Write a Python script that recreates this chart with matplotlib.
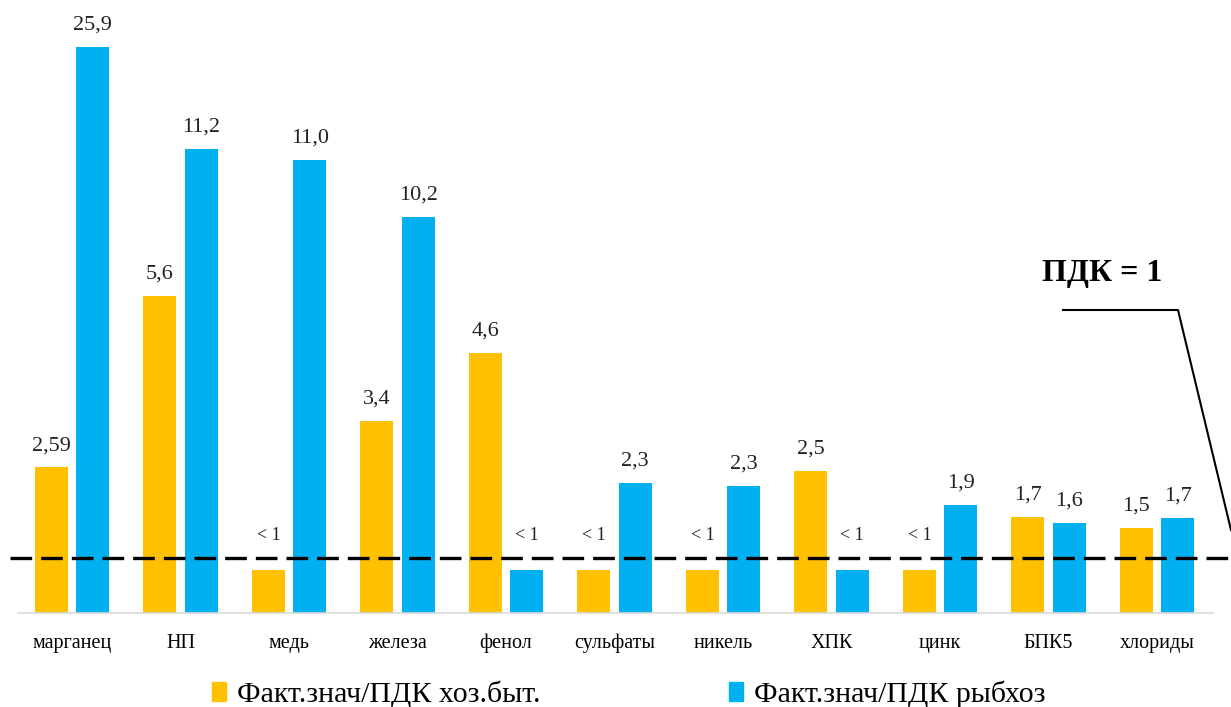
import matplotlib.pyplot as plt
import numpy as np
from matplotlib.patches import Patch

plt.rcParams['font.family'] = ['Liberation Serif', 'DejaVu Serif']

categories = ['марганец', 'НП', 'медь', 'железа', 'фенол', 'сульфаты',
              'никель', 'ХПК', 'цинк', 'БПК5', 'хлориды']
# bar heights as drawn in the picture
hoz_heights = [2.59, 5.64, 0.77, 3.42, 4.63, 0.77, 0.77, 2.53, 0.77, 1.71, 1.51]
ryb_heights = [10.07, 8.25, 8.06, 7.05, 0.77, 2.31, 2.26, 0.77, 1.93, 1.61, 1.69]
# labels printed over the bars
hoz_labels = ['2,59', '5,6', '< 1', '3,4', '4,6', '< 1', '< 1', '2,5', '< 1', '1,7', '1,5']
ryb_labels = ['25,9', '11,2', '11,0', '10,2', '< 1', '2,3', '2,3', '< 1', '1,9', '1,6', '1,7']
series_names = ['Факт.знач/ПДК хоз.быт.', 'Факт.знач/ПДК рыбхоз']

c_hoz = '#FFC000'
c_ryb = '#00B0F0'

fig = plt.figure(figsize=(12.31, 7.07), dpi=100)
ax = fig.add_axes([0, 94 / 707, 1, 613 / 707])

x = np.arange(len(categories))
w = 0.305
off = 0.19
ax.bar(x - off, hoz_heights, w, color=c_hoz)
ax.bar(x + off, ryb_heights, w, color=c_ryb)

ax.set_xlim(-72 / 108.5, (1231 - 72) / 108.5)
ax.set_ylim(0, 613 / 56.2)

for xs, hs, labs in [(x - off, hoz_heights, hoz_labels), (x + off, ryb_heights, ryb_labels)]:
    for xi, h, lab in zip(xs, hs, labs):
        if lab.startswith('<'):
            ax.text(xi, 1.22, lab, ha='center', va='bottom', fontsize=13, color='#222222')
        else:
            ax.text(xi, h + 0.22, lab, ha='center', va='bottom', fontsize=16, color='#222222')

# axis base line
ax.plot([-0.498, 10.515], [0, 0], color='#D9D9D9', lw=1.2, clip_on=False)
# ПДК line
ax.plot([-0.571, 10.7], [0.98, 0.98], color='black', lw=2.4,
        linestyle=(0, (6.5, 2.7)), clip_on=False)

for s in ax.spines.values():
    s.set_visible(False)
ax.set_yticks([])
ax.set_xticks(x)
ax.set_xticklabels(categories, fontsize=14.5)
ax.tick_params(axis='x', length=0, pad=15)

# annotation
fig.text(1102 / 1231, 1 - 273 / 707, 'ПДК = 1', fontsize=23, fontweight='bold',
         ha='center', va='center')
fig.add_artist(plt.Line2D([1063 / 1231, 1178 / 1231, 1231 / 1231],
                          [1 - 310 / 707, 1 - 310 / 707, 1 - 530 / 707],
                          color='black', lw=1.5))

handles = [Patch(color=c_hoz), Patch(color=c_ryb)]
fig.legend(handles, series_names, loc='center', bbox_to_anchor=(0.511, 1 - 694 / 707),
           ncol=2, frameon=False, fontsize=21.5, handlelength=0.45, handleheight=0.6,
           handletextpad=0.4, columnspacing=6.3)

fig.savefig('out.png', dpi=100)
